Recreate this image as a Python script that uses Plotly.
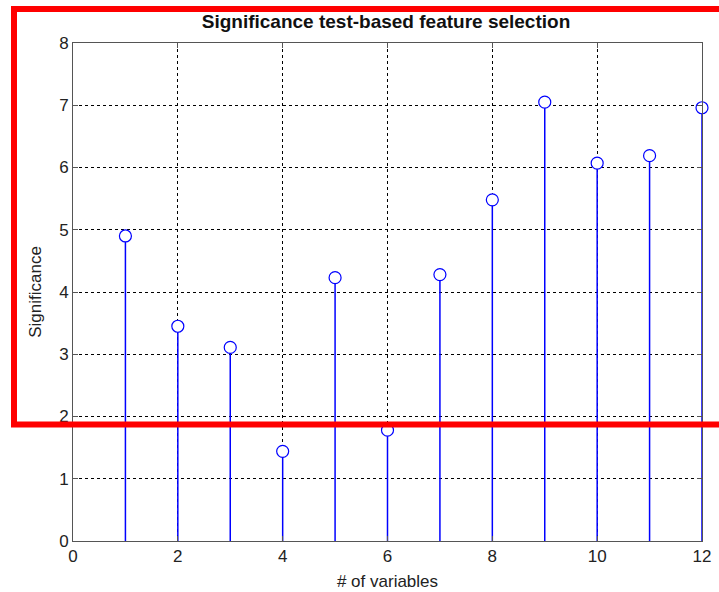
import plotly.graph_objects as go

# Data
variables = [1, 2, 3, 4, 5, 6, 7, 8, 9, 10, 11, 12]
significance = [4.90, 3.45, 3.11, 1.44, 4.23, 1.78, 4.28, 5.48, 7.05, 6.07, 6.19, 6.96]
x_ticks = [0, 2, 4, 6, 8, 10, 12]
y_ticks = [0, 1, 2, 3, 4, 5, 6, 7, 8]

title_text = "Significance test-based feature selection"
x_label = "# of variables"
y_label = "Significance"

FONT = "Liberation Sans, Arial, sans-serif"

# stems built from the data
stem_x, stem_y = [], []
for xv, yv in zip(variables, significance):
    stem_x += [xv, xv, None]
    stem_y += [0, yv, None]

fig = go.Figure()
fig.add_trace(go.Scatter(x=stem_x, y=stem_y, mode="lines",
                         line=dict(color="#0000ff", width=1.5),
                         hoverinfo="skip", showlegend=False, cliponaxis=False))
fig.add_trace(go.Scatter(x=variables, y=significance, mode="markers",
                         marker=dict(symbol="circle", size=12, color="white",
                                     line=dict(color="#0000ff", width=1.2)),
                         showlegend=False, cliponaxis=False))

L, R, T, B = 73, 17, 43, 51
W, H = 719, 592
pw, ph = W - L - R, H - T - B

def px_x(px):
    return (px - L) / pw

def px_y(py):
    return (H - B - py) / ph

fig.add_shape(type="rect", xref="paper", yref="paper",
              x0=px_x(14), x1=px_x(740), y0=px_y(424.5), y1=px_y(9),
              line=dict(color="#ff0000", width=6), layer="above")

axis_common = dict(showline=True, linecolor="#555555", linewidth=1, mirror="ticks",
                   ticks="inside", ticklen=5, tickcolor="#555555", automargin=False,
                   showgrid=True, gridcolor="#000000", gridwidth=1, griddash="3px,3px",
                   zeroline=False, tickfont=dict(family=FONT, size=17, color="#222222"))

fig.update_layout(
    width=W, height=H,
    margin=dict(l=L, r=R, t=T, b=B, autoexpand=False),
    paper_bgcolor="white", plot_bgcolor="white",
    title=dict(text="<b>" + title_text + "</b>", x=(200 + 572) / 2 / W, xanchor="center",
               y=1 - 21 / H, yanchor="middle",
               font=dict(family=FONT, size=19, color="#111111")),
    xaxis=dict(range=[0, 12], tickvals=x_ticks, **axis_common,
               title=dict(text=x_label, standoff=9, font=dict(family=FONT, size=17, color="#222222"))),
    yaxis=dict(range=[0, 8], tickvals=y_ticks, **axis_common,
               title=dict(text=y_label, standoff=13, font=dict(family=FONT, size=17, color="#222222"))),
)

fig.write_html("out.html")
